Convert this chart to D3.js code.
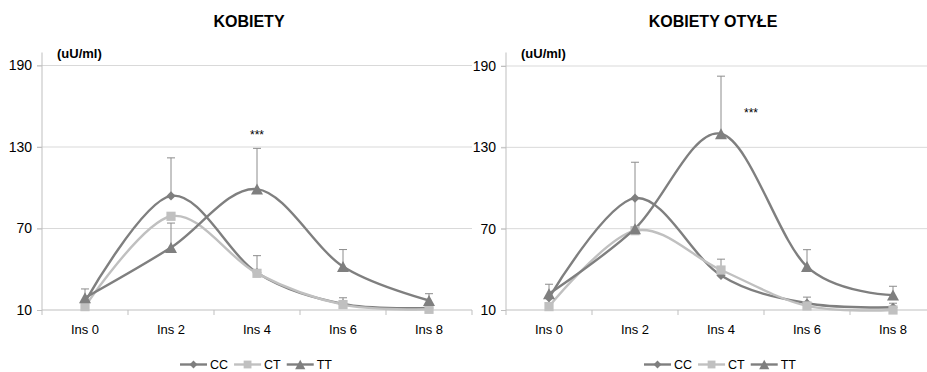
<!DOCTYPE html>
<html>
<head>
<meta charset="utf-8">
<script src="https://cdn.jsdelivr.net/npm/d3@7"></script>
<style>
  html, body { margin: 0; padding: 0; background: #fff; }
  svg { display: block; font-family: "Liberation Sans", Arial, sans-serif; }
</style>
</head>
<body>
<svg id="chart" width="927" height="372"></svg>
<script>
// Insulin curves by genotype, women and obese women
const categories = ["Ins 0", "Ins 2", "Ins 4", "Ins 6", "Ins 8"];
const yTicks = [10, 70, 130, 190];
const seriesNames = ["CC", "CT", "TT"];

// KOBIETY
const womenCC = [16, 94, 37.5, 14.5, 11.5];
const womenCT = [12.5, 79, 37, 14, 10.5];
const womenTT = [19, 56, 99, 42, 17];
const womenErrCC = [null, 28, 12.5, null, null];
const womenErrCT = [null, null, null, 5, null];
const womenErrTT = [6.5, 18, 30, 12.5, 5];

// KOBIETY OTYŁE
const obeseCC = [19, 92.5, 35.5, 15, 12];
const obeseCT = [12.5, 68.5, 39.5, 13, 10];
const obeseTT = [22, 70, 140, 42, 21];
const obeseErrCC = [null, null, null, null, null];
const obeseErrCT = [null, null, 8, 6.5, 5];
const obeseErrTT = [7, 49, 42.5, 12.5, 6.5];

const panels = [
  { title: "KOBIETY", unit: "(uU/ml)", stars: { cat: "Ins 4", value: 136, dx: 0 },
    x0: 42, x1: 472, yTop: 65.5, yBottom: 310,
    values: [womenCC, womenCT, womenTT], errors: [womenErrCC, womenErrCT, womenErrTT] },
  { title: "KOBIETY OTYŁE", unit: "(uU/ml)", stars: { cat: "Ins 4", value: 152.5, dx: 30 },
    x0: 506, x1: 936, yTop: 66, yBottom: 310,
    values: [obeseCC, obeseCT, obeseTT], errors: [obeseErrCC, obeseErrCT, obeseErrTT] }
];

const lineColors = { CC: "#7f7f7f", CT: "#c0c0c0", TT: "#7f7f7f" };
const gridColor = "#d9d9d9";
const axisColor = "#bfbfbf";
const errColor = "#8c8c8c";

const svg = d3.select("#chart");

function marker(g, name, cx, cy, scale) {
  const s = scale || 1;
  const c = lineColors[name];
  if (name === "CC") {
    const r = 4.6 * s;
    g.append("path")
      .attr("d", `M${cx},${cy - r}L${cx + r},${cy}L${cx},${cy + r}L${cx - r},${cy}Z`)
      .attr("fill", c);
  } else if (name === "CT") {
    const h = 4.6 * s;
    g.append("rect")
      .attr("x", cx - h).attr("y", cy - h)
      .attr("width", 2 * h).attr("height", 2 * h)
      .attr("fill", c);
  } else {
    const w = 6 * s, h = 5.5 * s;
    g.append("path")
      .attr("d", `M${cx},${cy - h}L${cx + w},${cy + h}L${cx - w},${cy + h}Z`)
      .attr("fill", c);
  }
}

panels.forEach(p => {
  const g = svg.append("g");
  const x = d3.scaleBand().domain(categories).range([p.x0, p.x1]).paddingInner(0).paddingOuter(0);
  const y = d3.scaleLinear().domain([10, 190]).range([p.yBottom, p.yTop]);
  const cx = c => x(c) + x.bandwidth() / 2;

  // gridlines
  g.append("g").selectAll("line").data(yTicks.filter(t => t !== 10)).join("line")
    .attr("x1", p.x0 - 5).attr("x2", p.x1)
    .attr("y1", d => y(d)).attr("y2", d => y(d))
    .attr("stroke", gridColor).attr("stroke-width", 1);

  // y axis
  const yAxis = g.append("g").attr("transform", `translate(${p.x0},0)`)
    .call(d3.axisLeft(y).tickValues(yTicks).tickSize(5).tickPadding(5).tickFormat(d3.format("d")));
  yAxis.select(".domain").remove();
  yAxis.selectAll(".tick line").attr("stroke", axisColor);
  yAxis.selectAll(".tick text").attr("font-size", 14).attr("fill", "#000")
    .attr("font-family", "Liberation Sans, Arial, sans-serif");
  g.append("line").attr("x1", p.x0).attr("x2", p.x0)
    .attr("y1", 52.5).attr("y2", p.yBottom)
    .attr("stroke", axisColor).attr("stroke-width", 1);

  // x axis with ticks at category boundaries
  const xAxis = g.append("g").attr("transform", `translate(0,${p.yBottom})`)
    .call(d3.axisBottom(x).tickSize(0).tickPadding(15));
  xAxis.select(".domain").remove();
  xAxis.selectAll(".tick text").attr("font-size", 13).attr("fill", "#000")
    .attr("font-family", "Liberation Sans, Arial, sans-serif");
  g.append("line").attr("x1", p.x0).attr("x2", p.x1)
    .attr("y1", p.yBottom).attr("y2", p.yBottom)
    .attr("stroke", axisColor).attr("stroke-width", 1);
  const bounds = categories.map(c => x(c)).concat([x(categories[categories.length - 1]) + x.bandwidth()]);
  g.append("g").selectAll("line").data(bounds).join("line")
    .attr("x1", d => d).attr("x2", d => d)
    .attr("y1", p.yBottom).attr("y2", p.yBottom + 5)
    .attr("stroke", axisColor).attr("stroke-width", 1);

  // title and unit
  g.append("text").attr("x", (p.x0 + p.x1) / 2 - 8).attr("y", 27)
    .attr("text-anchor", "middle").attr("font-size", 16).attr("font-weight", "bold")
    .text(p.title);
  g.append("text").attr("x", p.x0 + 15).attr("y", 58)
    .attr("font-size", 13).attr("font-weight", "bold").text(p.unit);

  // error bars (upper only)
  seriesNames.forEach((name, i) => {
    p.errors[i].forEach((e, j) => {
      if (e == null) return;
      const xc = cx(categories[j]);
      const v = p.values[i][j];
      g.append("line").attr("x1", xc).attr("x2", xc)
        .attr("y1", y(v)).attr("y2", y(v + e))
        .attr("stroke", errColor).attr("stroke-width", 1);
      g.append("line").attr("x1", xc - 4).attr("x2", xc + 4)
        .attr("y1", y(v + e)).attr("y2", y(v + e))
        .attr("stroke", errColor).attr("stroke-width", 1);
    });
  });

  // smoothed series lines
  const line = d3.line()
    .x((d, j) => cx(categories[j]))
    .y(d => y(d))
    .curve(d3.curveCardinal.tension(0));
  seriesNames.forEach((name, i) => {
    g.append("path").datum(p.values[i])
      .attr("d", line)
      .attr("fill", "none")
      .attr("stroke", lineColors[name])
      .attr("stroke-width", 2.4)
      .attr("stroke-linejoin", "round");
  });
  seriesNames.forEach((name, i) => {
    p.values[i].forEach((v, j) => marker(g, name, cx(categories[j]), y(v)));
  });

  // significance marker
  g.append("text").attr("x", cx(p.stars.cat) + p.stars.dx).attr("y", y(p.stars.value))
    .attr("text-anchor", "middle").attr("font-size", 12).text("***");

  // legend
  const legend = g.append("g");
  let lx = 0;
  seriesNames.forEach(name => {
    const item = legend.append("g").attr("transform", `translate(${lx},0)`);
    item.append("line").attr("x1", 0).attr("x2", 27).attr("y1", 0).attr("y2", 0)
      .attr("stroke", lineColors[name]).attr("stroke-width", 2.4);
    marker(item, name, 13.5, 0, 0.85);
    const t = item.append("text").attr("x", 30).attr("y", 4.5)
      .attr("font-size", 12.5).text(name);
    const w = t.node().getComputedTextLength();
    lx += 30 + w + 6;
  });
  const total = lx - 6;
  legend.attr("transform", `translate(${(p.x0 + p.x1) / 2 - total / 2 - 1},364.5)`);
});
</script>
</body>
</html>
